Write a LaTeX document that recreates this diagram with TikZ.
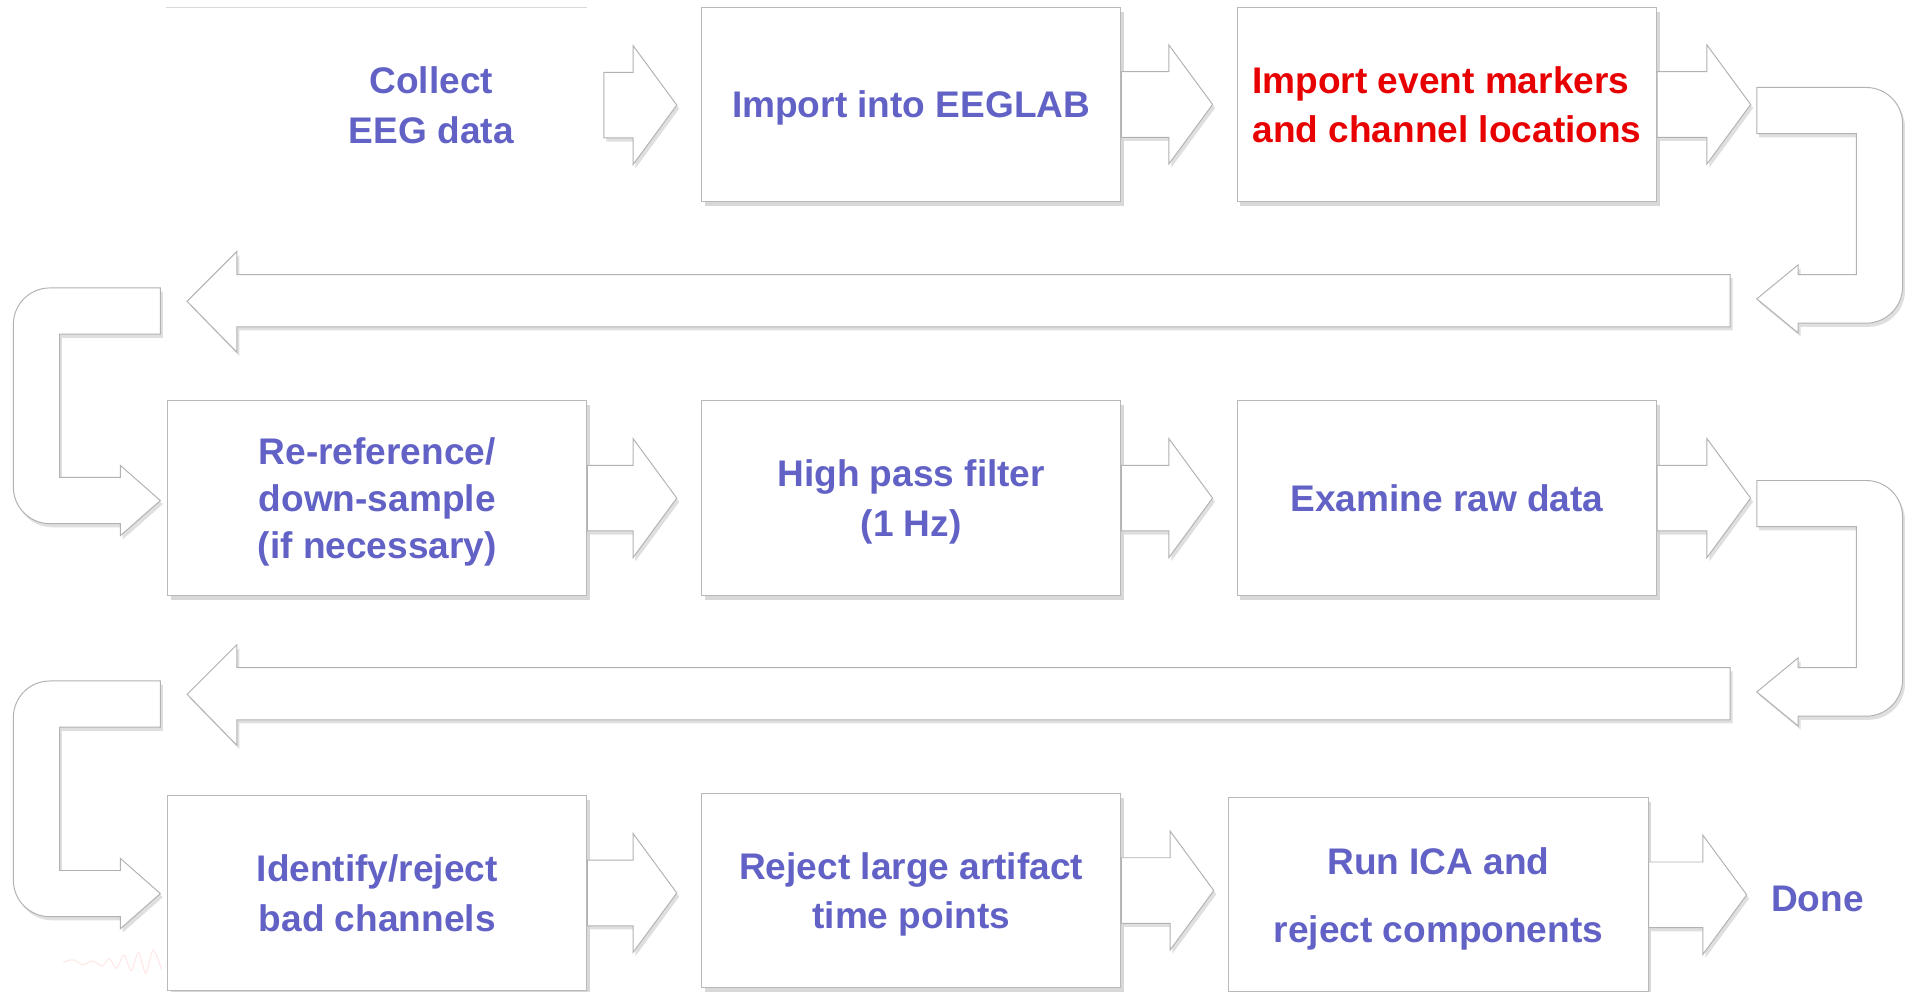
\documentclass[tikz,border=0pt]{standalone}
\usepackage{fontspec}
\setmainfont{Liberation Sans}
\usepackage{tikz}
\usetikzlibrary{shapes,calc,shadows,positioning}
\definecolor{stepblue}{RGB}{98,98,198}
\definecolor{stepred}{RGB}{232,0,0}

\newcommand{\fatright}[2]{%
\draw[blockarrow] ($(#1)+(0,27)$) -- ($(#2)+(-36,27)$) -- ($(#2)+(-36,49)$) -- (#2)
  -- ($(#2)+(-36,-49)$) -- ($(#2)+(-36,-27)$) -- ($(#1)+(0,-27)$) -- cycle;}

\begin{document}
\begin{tikzpicture}[x=1pt, y=1pt,
  stepbox/.style={draw=gray!55, fill=white, line width=0.9pt, minimum width=345pt, minimum height=160pt,
    inner sep=0pt, align=center, text=stepblue, text depth=0pt, font=\bfseries\fontsize{30.5}{41}\selectfont,
    drop shadow={shadow xshift=2.5pt, shadow yshift=-3.5pt, fill=black!30}},
  blockarrow/.style={draw=gray!60, fill=white, line width=0.8pt,
    drop shadow={shadow xshift=2pt, shadow yshift=-3pt, fill=black!25}},
  steptext/.style={text=stepblue, align=center, inner sep=0pt, font=\bfseries\fontsize{30.5}{41}\selectfont}]
\useasboundingbox (0,0) rectangle (1568,-816);

\draw[red!10, line width=0.8pt] plot[smooth] coordinates {(52,-792) (60,-790) (68,-794) (76,-791) (84,-795) (90,-789) (96,-797) (102,-786) (108,-799) (114,-784) (120,-801) (126,-782) (133,-798)};

\draw[gray!30, line width=0.8pt] (137,-6) -- (483,-6);
\node[steptext] (collect) at (355,-86.5) {Collect\\EEG data};
\node[stepbox] (box2) at (750,-86) {Import into EEGLAB};
\node[stepbox, text=stepred, align=left] (box3) at (1191,-86) {Import event markers\\and channel locations};

\node[stepbox] (box4) at (310.5,-410) {Re-reference/\\[-2pt]down-sample\\[-2pt](if necessary)};
\node[stepbox] (box5) at (750,-410) {High pass filter\\(1 Hz)};
\node[stepbox] (box6) at (1191,-410) {Examine raw data};

\node[stepbox] (box7) at (310.5,-735) {Identify/reject\\bad channels};
\node[stepbox] (box8) at (750,-733) {Reject large artifact\\time points};
\node[stepbox] (box9) at (1184,-736.5) {Run ICA and\\[15pt]reject components};
\node[steptext] (done) at (1496,-740) {Done};

\coordinate (t12) at ($(collect.east -| box2.west)+(-20,0)$);
\coordinate (t23) at ($(box2.east -| box3.west)+(-20,0)$);
\coordinate (t3u) at ($(box3.east)+(77,0)$);
\coordinate (t45) at ($(box4.east -| box5.west)+(-20,0)$);
\coordinate (t56) at ($(box5.east -| box6.west)+(-20,0)$);
\coordinate (t6u) at ($(box6.east)+(77,0)$);
\coordinate (t78) at ($(box7.east -| box8.west)+(-20,0)$);
\coordinate (t89) at ($(box8.east -| box9.west)+(-12,0)$);
\coordinate (t9d) at ($(box9.east -| done.west)+(-20,0)$);

\fatright{$(collect.east)+(74,0)$}{t12}
\fatright{box2.east}{t23}
\fatright{box3.east}{t3u}
\fatright{box4.east}{t45}
\fatright{box5.east}{t56}
\fatright{box6.east}{t6u}
\fatright{box7.east}{t78}
\fatright{box8.east}{t89}
\fatright{box9.east}{t9d}

\foreach \dy in {0,323.5}{
\begin{scope}[shift={(0,-\dy)}]
\draw[blockarrow] (1446,-72) -- (1536,-72) arc[start angle=90, end angle=0, radius=30] -- (1566,-236)
  arc[start angle=0, end angle=-90, radius=30] -- (1480,-266) -- (1480,-274) -- (1446,-246)
  -- (1480,-218) -- (1480,-226) -- (1528,-226) -- (1528,-110) -- (1446,-110) -- cycle;
\draw[blockarrow] (1424,-226) -- (195,-226) -- (195,-207) -- (154,-248) -- (195,-290) -- (195,-269) -- (1424,-269) -- cycle;
\draw[blockarrow] (132,-237) -- (41,-237) arc[start angle=90, end angle=180, radius=30] -- (11,-401)
  arc[start angle=180, end angle=270, radius=30] -- (99,-431) -- (99,-441) -- (132,-412)
  -- (99,-383) -- (99,-393) -- (49,-393) -- (49,-275) -- (132,-275) -- cycle;
\end{scope}}
\end{tikzpicture}
\end{document}
